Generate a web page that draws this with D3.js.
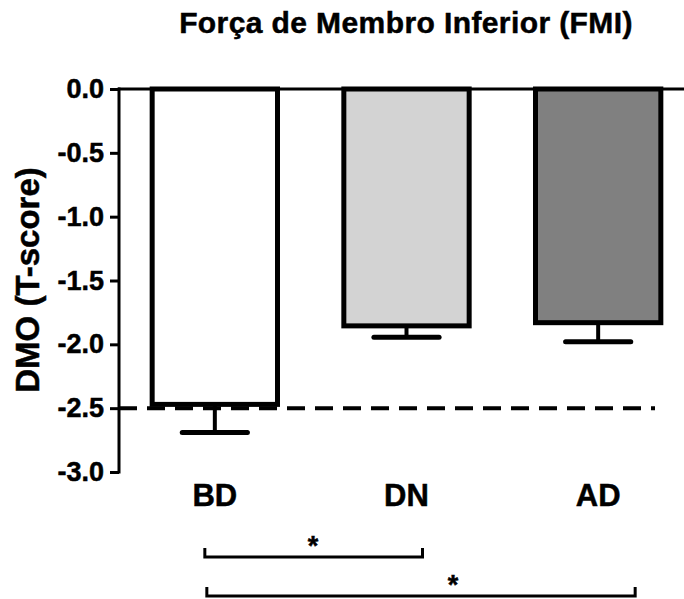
<!DOCTYPE html>
<html>
<head>
<meta charset="utf-8">
<script src="https://cdn.jsdelivr.net/npm/d3@7"></script>
<style>
  body { margin: 0; background: #fff; }
  text { font-family: "Liberation Sans", Arial, sans-serif; font-weight: bold; fill: #000; stroke: #000; stroke-width: 0.5px; }
</style>
</head>
<body>
<div id="chart"></div>
<script>
// data
var categories = ["BD", "DN", "AD"];
var means = [-2.49, -1.875, -1.85];
var errors = [0.20, 0.07, 0.13];
var fills = ["#ffffff", "#d3d3d3", "#808080"];
var yTicks = [0.0, -0.5, -1.0, -1.5, -2.0, -2.5, -3.0];
var threshold = -2.5;
var sigPairs = [["BD", "DN"], ["BD", "AD"]];
var sigLabels = ["*", "*"];

var width = 684;
var height = 599;

var svg = d3.select("#chart")
    .append("svg")
    .attr("width", width)
    .attr("height", height);

// scales
var y = d3.scaleLinear().domain([0, -3]).range([89, 472]);
var x = d3.scaleBand()
    .domain(categories)
    .range([119, 694])
    .paddingInner(0.32)
    .paddingOuter(0.16);
var bw = x.bandwidth();

// title
svg.append("text")
    .attr("x", 406)
    .attr("y", 33)
    .attr("text-anchor", "middle")
    .style("font-size", "30px")
    .style("letter-spacing", "0.4px")
    .text("Força de Membro Inferior (FMI)");

// y axis label
svg.append("text")
    .attr("transform", "translate(39,280)rotate(-90)")
    .attr("text-anchor", "middle")
    .style("font-size", "33px")
    .text("DMO (T-score)");

// y axis
var yAxis = d3.axisLeft(y)
    .tickValues(yTicks)
    .tickSize(9)
    .tickPadding(6);

var gy = svg.append("g")
    .attr("transform", "translate(119,0)")
    .call(yAxis);
gy.select(".domain").remove();
gy.selectAll(".tick line").attr("stroke", "#000").attr("stroke-width", 3);
gy.selectAll(".tick text")
    .style("font-size", "27px")
    .style("font-family", "'Liberation Sans', Arial, sans-serif")
    .style("font-weight", "bold")
    .attr("fill", "#000")
    .text(function(d) { return d3.format(".1f")(d).replace("−", "-"); });
gy.append("line")
    .attr("x1", 0).attr("x2", 0)
    .attr("y1", y(0) - 1.5).attr("y2", y(-3) + 1.5)
    .attr("stroke", "#000")
    .attr("stroke-width", 3);

// zero line across the top
svg.append("line")
    .attr("x1", 118).attr("x2", width)
    .attr("y1", y(0)).attr("y2", y(0))
    .attr("stroke", "#000")
    .attr("stroke-width", 3);

var bars = categories.map(function(c, i) {
  return { cat: c, mean: means[i], err: errors[i], fill: fills[i] };
});

// error bars (drawn below the bars)
var eb = svg.append("g").selectAll("g")
    .data(bars)
    .enter().append("g");
eb.append("line")
    .attr("x1", function(d) { return x(d.cat) + bw / 2; })
    .attr("x2", function(d) { return x(d.cat) + bw / 2; })
    .attr("y1", function(d) { return y(d.mean) - 3; })
    .attr("y2", function(d) { return y(d.mean - d.err); })
    .attr("stroke", "#000")
    .attr("stroke-width", 4);
eb.append("line")
    .attr("x1", function(d) { return x(d.cat) + bw / 4; })
    .attr("x2", function(d) { return x(d.cat) + 3 * bw / 4; })
    .attr("y1", function(d) { return y(d.mean - d.err); })
    .attr("y2", function(d) { return y(d.mean - d.err); })
    .attr("stroke", "#000")
    .attr("stroke-width", 5)
    .attr("stroke-linecap", "round");

// bars
svg.append("g").selectAll("rect")
    .data(bars)
    .enter().append("rect")
    .attr("x", function(d) { return x(d.cat) + 2.5; })
    .attr("width", bw - 5)
    .attr("y", y(0))
    .attr("height", function(d) { return y(d.mean) - y(0) - 2.5; })
    .attr("fill", function(d) { return d.fill; })
    .attr("stroke", "#000")
    .attr("stroke-width", 5);

// dashed threshold line
svg.append("line")
    .attr("x1", 119).attr("x2", 655)
    .attr("y1", y(threshold)).attr("y2", y(threshold))
    .attr("stroke", "#000")
    .attr("stroke-width", 4)
    .attr("stroke-dasharray", "18,10");

// category labels
svg.append("g").selectAll("text")
    .data(categories)
    .enter().append("text")
    .attr("x", function(d) { return x(d) + bw / 2; })
    .attr("y", 506)
    .attr("text-anchor", "middle")
    .style("font-size", "31px")
    .text(function(d) { return d; });

// significance brackets
var bracketLayout = [
  { y: 557, left: -10, right: 16, starX: 313 },
  { y: 596, left: -8, right: 37, starX: 453 }
];
sigPairs.forEach(function(p, i) {
  var L = bracketLayout[i];
  var x1 = x(p[0]) + bw / 2 + L.left;
  var x2 = x(p[1]) + bw / 2 + L.right;
  svg.append("path")
      .attr("d", "M" + x1 + "," + (L.y - 9) + "V" + L.y + "H" + x2 + "V" + (L.y - 9))
      .attr("fill", "none")
      .attr("stroke", "#000")
      .attr("stroke-width", 3);
  svg.append("text")
      .attr("x", L.starX)
      .attr("y", L.y - 2)
      .attr("text-anchor", "middle")
      .style("font-size", "27px")
      .text(sigLabels[i]);
});
</script>
</body>
</html>
